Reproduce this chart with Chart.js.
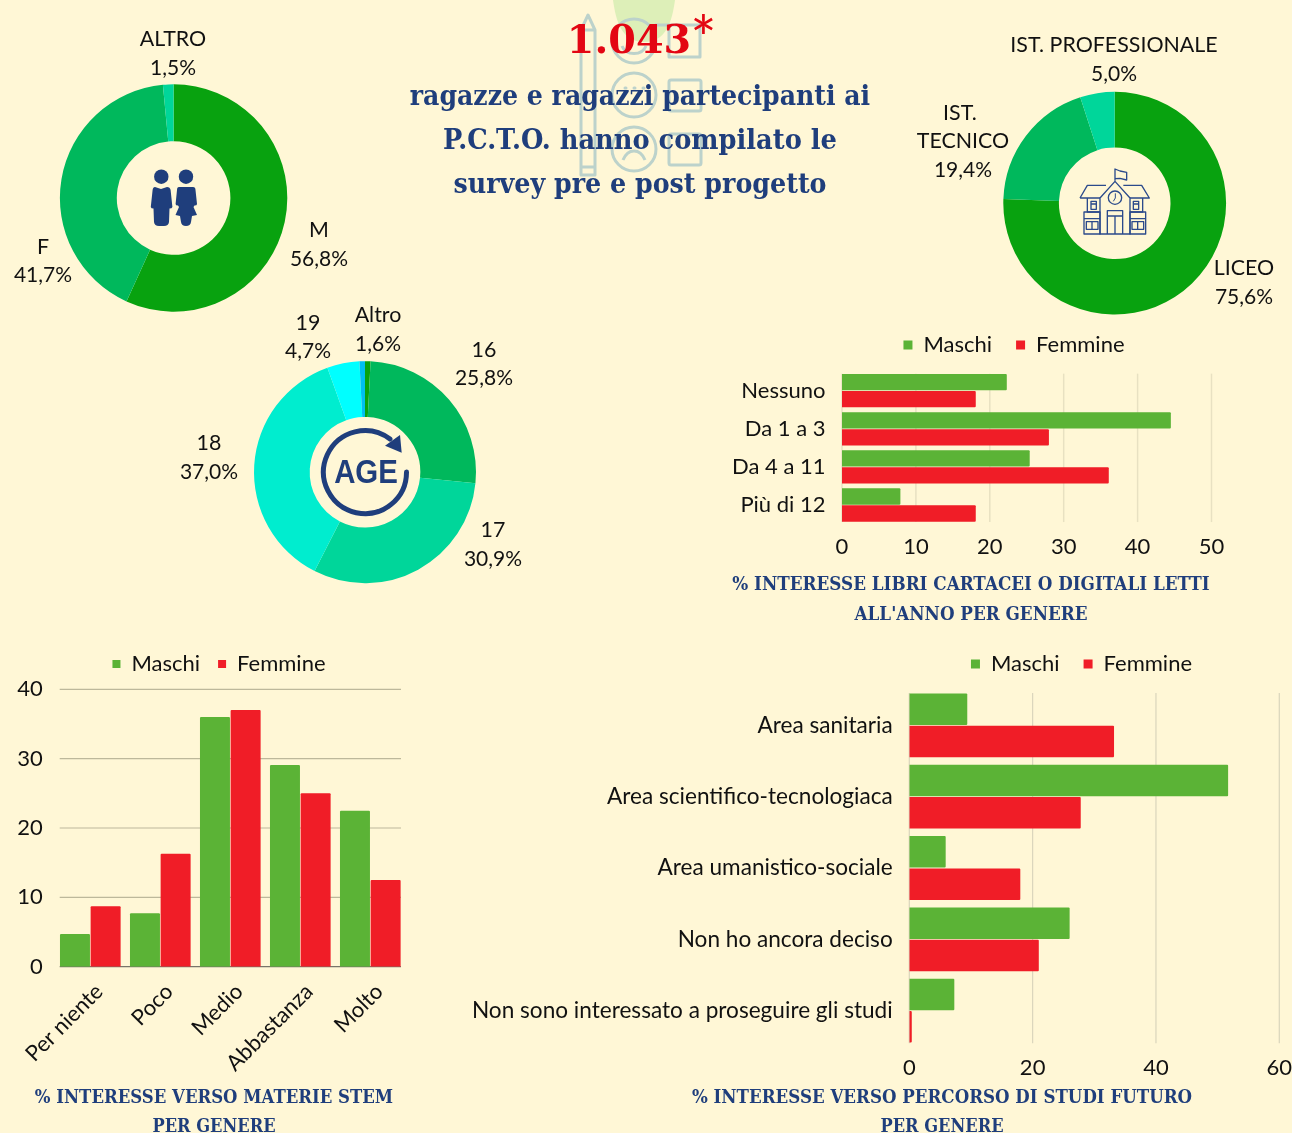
<!DOCTYPE html>
<html lang="it">
<head>
<meta charset="utf-8">
<title>P.C.T.O. survey</title>
<script src="https://cdn.jsdelivr.net/npm/chart.js@4/dist/chart.umd.js"></script>
<style>
html,body{margin:0;padding:0;background:#FFF7D6;}
#page{position:relative;width:1292px;height:1133px;overflow:hidden;background:#FFF7D6;}
#page canvas{position:absolute;}
#page svg{position:absolute;left:0;top:0;}
.t{position:absolute;white-space:nowrap;line-height:1;}
</style>
</head>
<body>
<div id="page">
<svg id="deco" width="1292" height="1133" viewBox="0 0 1292 1133" fill="none">
  <path d="M613 0 C616 22 622 42 644 42 C666 42 672 22 675 0 Z" fill="#DDEFB8"/>
  <g stroke="#BCD2CB" stroke-width="3" stroke-linejoin="round">
    <path d="M581 175 V30 L588 15 L595 30 V175 Z M581 30 H595 M581 167 H595"/>
    <circle cx="634" cy="41" r="22"/>
    <path d="M622 46 C626 56 642 56 646 46"/>
    <circle cx="634" cy="95" r="22"/>
    <path d="M625 88 h1 M634 88 h1 M643 88 h1" stroke-linecap="round"/>
    <circle cx="634" cy="149" r="22"/>
    <path d="M623 160 C628 148 640 148 645 160"/>
    <path d="M655 25 H700 V57 H669 V25"/>
    <rect x="669" y="80" width="32" height="31" rx="2"/>
    <rect x="669" y="134" width="32" height="31" rx="2"/>
  </g>
</svg>
<canvas id="gender"></canvas>
<canvas id="school"></canvas>
<canvas id="age"></canvas>
<canvas id="books"></canvas>
<canvas id="stem"></canvas>
<canvas id="future"></canvas>
<svg id="icons" width="1292" height="1133" viewBox="0 0 1292 1133" fill="none">
  <g fill="#1F3E7C">
    <circle cx="161.3" cy="176.7" r="7.2"/>
    <circle cx="186" cy="176.7" r="7.2"/>
    <path d="M155 187 L161 189 L167 187 Q170 187 170.6 190 L172.4 207 Q172 208.6 169.5 208.6 L169 222 Q168.5 226 164 226 H159 Q154.5 226 154 222 L153.5 208.6 Q151 208.6 150.8 207 L152.6 190 Q153 187 155 187 Z"/>
    <path d="M179 187 H193 Q195.5 187 195.5 190 L197 204 Q197 205.6 194.5 205.6 L193.5 207 L197 215 L192 216 L191 222 Q190.5 226 186 226 Q181.5 226 181 222 L180 216 L175.5 215 L179 207 L178 205.6 Q175.5 205.6 175.6 204 L177 190 Q177 187 179 187 Z"/>
  </g>
  <g transform="translate(1070 160) scale(.3333)" stroke="#2B4A8B" stroke-width="4" stroke-linejoin="round">
    <path d="M135 62 V27 L150 33 L170 37 V60 L150 55 L135 56"/>
    <path d="M30 114 L52 76 H108 M160 76 H215 L238 114 H180 M30 114 H90"/>
    <path d="M90 114 L135 64 L180 114 V222 H90 Z"/>
    <circle cx="135" cy="113" r="20"/>
    <path d="M136 100 V114 L130 124" stroke-width="3"/>
    <path d="M52 114 V156 H90 M180 156 H218 V114"/>
    <rect x="63" y="124" width="16" height="24"/>
    <rect x="190" y="124" width="16" height="24"/>
    <path d="M63 132 H79 M190 132 H206"/>
    <path d="M42 156 H90 V222 H42 Z M180 156 H227 V222 H180 Z M42 176 H90 M180 176 H227"/>
    <path d="M49 185 H84 V208 H49 Z M66 185 V208 M186 185 H221 V208 H186 Z M203 185 V208"/>
    <path d="M112 222 V152 H158 V222 M112 168 H158 M135 168 V222"/>
  </g>
  <g>
    <path d="M406.5 472 A41.5 41.5 0 1 1 390 439" stroke="#1F3E7C" stroke-width="5" stroke-linecap="round"/>
    <path d="M400 435 L401.7 452.7 L385 445.7 Z" fill="#1F3E7C"/>
  </g>
</svg>
</div>
<script>
// ---------- data ----------
const seriesNames = ['Maschi', 'Femmine'];

const genderLabels = ['M', 'F', 'ALTRO'];
const genderValues = [56.8, 41.7, 1.5];

const schoolLabels = ['LICEO', 'IST. TECNICO', 'IST. PROFESSIONALE'];
const schoolValues = [75.6, 19.4, 5.0];

const ageLabels = ['Altro (a)', '16', '17', '18', '19', 'Altro (b)'];
const ageValues = [0.8, 25.8, 30.9, 37.0, 4.7, 0.8];

const booksLabels = ['Nessuno', 'Da 1 a 3', 'Da 4 a 11', 'Più di 12'];
const booksMaschi = [22.3, 44.5, 25.4, 7.9];
const booksFemmine = [18.1, 28.0, 36.1, 18.1];

const stemLabels = ['Per niente', 'Poco', 'Medio', 'Abbastanza', 'Molto'];
const stemMaschi = [4.7, 7.7, 36.0, 29.1, 22.5];
const stemFemmine = [8.7, 16.3, 37.0, 25.0, 12.5];

const futureLabels = ['Area sanitaria', 'Area scientifico-tecnologiaca', 'Area umanistico-sociale', 'Non ho ancora deciso', 'Non sono interessato a proseguire gli studi'];
const futureMaschi = [9.4, 51.7, 5.9, 26.0, 7.3];
const futureFemmine = [33.2, 27.8, 18.0, 21.0, 0.4];

// ---------- style ----------
const BODY = 'Lato';
const INK = '#111111';
const NAVY = '#1F3E7C';
const GREEN = '#5BB336';
const RED = '#F01D27';
const RING = ['#08A20F', '#00B85C', '#00D69A', '#00EDCF', '#00FFFF', '#00BFF0'];
const page = document.getElementById('page');

Chart.defaults.animation = false;
Chart.defaults.font.family = BODY;
Chart.defaults.color = INK;

function text(str, cx, cy, font, color, width) {
  const d = document.createElement('div');
  d.className = 't';
  d.textContent = str;
  d.style.font = font;
  d.style.lineHeight = '1';
  d.style.color = color;
  d.style.left = cx + 'px';
  d.style.top = cy + 'px';
  page.appendChild(d);
  const s = width ? width / d.offsetWidth : 1;
  d.style.transform = 'translate(-50%,-50%) scaleX(' + s + ')';
}

function ring(id, labels, values, colors, cx, cy, r, inner) {
  const size = 240;
  const el = document.getElementById(id);
  el.width = size; el.height = size;
  const L = Math.floor(cx) - size / 2, T = Math.floor(cy) - size / 2;
  el.style.left = L + 'px'; el.style.top = T + 'px';
  new Chart(el, {
    type: 'doughnut',
    data: { labels, datasets: [{ data: values, backgroundColor: colors, borderWidth: 0, hoverOffset: 0 }] },
    options: {
      responsive: false,
      radius: r, cutout: (100 * inner / r) + '%',
      layout: { padding: { left: 2 * (cx - Math.floor(cx)), top: 2 * (cy - Math.floor(cy)) } },
      plugins: { legend: { display: false }, tooltip: { enabled: false } }
    }
  });
}

const insetGrid = {
  id: 'insetGrid',
  beforeUpdate(chart) {
    const o = chart.options.plugins.insetGrid;
    const legend = chart.legend;
    if (!legend._fitWrapped) {
      const base = legend.fit;
      legend.fit = function () { base.call(this); this.height = o.legendHeight; };
      legend._fitWrapped = true;
    }
  },
  afterLayout(chart) {
    const o = chart.options.plugins.insetGrid;
    chart.legend.left = o.legendX - 2000;
    chart.legend.right = o.legendX + 2000;
  },
  beforeDatasetsDraw(chart) {
    const o = chart.options.plugins.insetGrid;
    const ctx = chart.ctx, a = chart.chartArea;
    const scale = chart.scales[o.axis];
    ctx.save();
    scale.ticks.forEach((t, i) => {
      const p = scale.getPixelForTick(i);
      const zero = t.value === 0;
      ctx.strokeStyle = zero ? o.zeroColor : o.color;
      ctx.lineWidth = zero ? o.zeroWidth : o.width;
      ctx.beginPath();
      if (o.axis === 'x') { ctx.moveTo(p, a.top + o.inset[0]); ctx.lineTo(p, a.bottom - o.inset[1]); }
      else { ctx.moveTo(a.left + o.inset[0], p); ctx.lineTo(a.right - o.inset[1], p); }
      ctx.stroke();
    });
    ctx.restore();
  }
};

function bars(c) {
  const el = document.getElementById(c.id);
  const L = c.box[0], T = c.box[1], W = c.box[2], H = c.box[3];
  el.width = W; el.height = H;
  el.style.left = L + 'px'; el.style.top = T + 'px';
  const p = c.plot; // left, right, top, bottom
  const horizontal = c.indexAxis === 'y';
  const valueKey = horizontal ? 'x' : 'y';
  const catKey = horizontal ? 'y' : 'x';
  const scales = {};
  scales[valueKey] = {
    min: 0, max: c.max,
    ticks: { stepSize: c.step, font: { size: c.fs }, color: INK, padding: c.valuePad },
    grid: { display: false, drawTicks: false }, border: { display: false }
  };
  scales[catKey] = {
    ticks: Object.assign({ font: { size: c.catFs || c.fs }, color: INK, padding: c.catPad, autoSkip: false }, c.catTicks || {}),
    grid: { display: false, drawTicks: false }, border: { display: false }
  };
  scales.x.afterFit = s => { s.height = T + H - p[3]; };
  scales.y.afterFit = s => { s.width = p[0] - L; };
  new Chart(el, {
    type: 'bar',
    data: {
      labels: c.labels,
      datasets: [
        { label: seriesNames[0], data: c.a, backgroundColor: GREEN, borderRadius: 1, barPercentage: c.bp, categoryPercentage: c.cp },
        { label: seriesNames[1], data: c.b, backgroundColor: RED, borderRadius: 1, barPercentage: c.bp, categoryPercentage: c.cp }
      ]
    },
    plugins: [insetGrid],
    options: {
      responsive: false,
      indexAxis: c.indexAxis,
      layout: { autoPadding: false, padding: { left: 0, right: L + W - p[1], top: 0, bottom: 0 } },
      scales,
      plugins: {
        tooltip: { enabled: false },
        insetGrid: Object.assign({ legendHeight: p[2] - T, legendX: c.legendCx - L }, c.grid),
        legend: {
          position: 'top',
          labels: { boxWidth: c.legendBox, boxHeight: c.legendBox, padding: c.legendPad, color: INK, font: { size: c.fs } }
        }
      }
    }
  });
}

// ---------- rings ----------
ring('gender', genderLabels, genderValues, [RING[0], RING[1], RING[2]], 173.6, 198, 113.7, 56.8);
ring('school', schoolLabels, schoolValues, [RING[0], RING[1], RING[2]], 1114.7, 203.2, 111.4, 55.8);
ring('age', ageLabels, ageValues, [RING[0], RING[1], RING[2], RING[3], RING[4], RING[5]], 365, 472.2, 111, 55.3);

// ---------- bar charts ----------
bars({
  id: 'books', indexAxis: 'y', labels: booksLabels, a: booksMaschi, b: booksFemmine,
  box: [700, 310, 592, 260], plot: [842, 1211.5, 371.65, 524.05],
  max: 50, step: 10, fs: 22, catPad: 16.5, valuePad: 10, bp: .959, cp: .892,
  legendCx: 1014, legendBox: 9, legendPad: 24,
  grid: { axis: 'x', inset: [2, 2], color: '#E8E1C2', width: 1.5, zeroColor: '#E8E1C2', zeroWidth: 1.5 }
});
bars({
  id: 'stem', labels: stemLabels, a: stemMaschi, b: stemFemmine,
  box: [0, 635, 440, 457], plot: [55.3, 405.3, 689.3, 966.7],
  max: 40, step: 10, fs: 22, catPad: 12, valuePad: 12.6, bp: .978, cp: .876,
  catTicks: { minRotation: 45, maxRotation: 45, labelOffset: 9 },
  legendCx: 219, legendBox: 8, legendPad: 18,
  grid: { axis: 'y', inset: [4.4, 4.3], color: '#BDB89B', width: 1.2, zeroColor: '#77756A', zeroWidth: 1.2 }
});
bars({
  id: 'future', indexAxis: 'y', labels: futureLabels, a: futureMaschi, b: futureFemmine,
  box: [440, 629, 920, 462], plot: [909.3, 1279.3, 689.67, 1046.3],
  max: 60, step: 20, fs: 22, catFs: 22.6, catPad: 16.6, valuePad: 8, bp: .974, cp: .907,
  legendCx: 1081.5, legendBox: 9, legendPad: 24,
  grid: { axis: 'x', inset: [3.3, 3], color: '#DAD5BC', width: 1.2, zeroColor: '#DAD5BC', zeroWidth: 1.2 }
});

// ---------- ring call-outs ----------
const NAME = '21.4px ' + BODY;
const PCT = '21px ' + BODY;
const pct = v => v.toFixed(1).replace('.', ',') + '%';
const pair = (name, v, cx, cy1, cy2) => { text(name, cx, cy1 + 1, NAME, INK); text(pct(v), cx, cy2 - 1, PCT, INK); };
pair(genderLabels[2], genderValues[2], 173, 38, 67);
pair(genderLabels[0], genderValues[0], 319, 229, 258);
pair(genderLabels[1], genderValues[1], 43, 246, 274);
pair(schoolLabels[2], schoolValues[2], 1114, 44, 73);
text('IST.', 960, 113, NAME, INK);
pair('TECNICO', schoolValues[1], 963, 140, 169);
pair(schoolLabels[0], schoolValues[0], 1244, 267, 296);
pair(ageLabels[4], ageValues[4], 308, 322, 350);
pair('Altro', ageValues[0] + ageValues[5], 378, 314, 343);
pair(ageLabels[1], ageValues[1], 484, 349, 377);
pair(ageLabels[3], ageValues[3], 209, 442, 471);
pair(ageLabels[2], ageValues[2], 493, 529, 558);
text('AGE', 366, 470.5, 'bold 34px "Liberation Sans"', NAVY, 64);

// ---------- headline and captions ----------
const SLAB = '"DejaVu Serif"';
const RED_T = '#E30613';
text('1.043', 628.5, 39, 'bold 40px ' + SLAB, RED_T, 124);
text('*', 703.5, 37, '62px ' + BODY, RED_T);
const H1 = 'bold 28px ' + SLAB;
text('ragazze e ragazzi partecipanti ai', 639.5, 96, H1, NAVY, 460);
text('P.C.T.O. hanno compilato le', 640, 140, H1, NAVY, 394);
text('survey pre e post progetto', 640, 184, H1, NAVY, 373);
const CAP = 'bold 19px ' + SLAB;
text('% INTERESSE LIBRI CARTACEI O DIGITALI LETTI', 970.5, 583, CAP, NAVY, 477);
text("ALL'ANNO PER GENERE", 970.5, 613, CAP, NAVY, 233);
text('% INTERESSE VERSO MATERIE STEM', 214, 1096, CAP, NAVY, 358);
text('PER GENERE', 213.5, 1125, CAP, NAVY, 123);
text('% INTERESSE VERSO PERCORSO DI STUDI FUTURO', 942, 1096, CAP, NAVY, 500);
text('PER GENERE', 941.5, 1125, CAP, NAVY, 123);
</script>
</body>
</html>
